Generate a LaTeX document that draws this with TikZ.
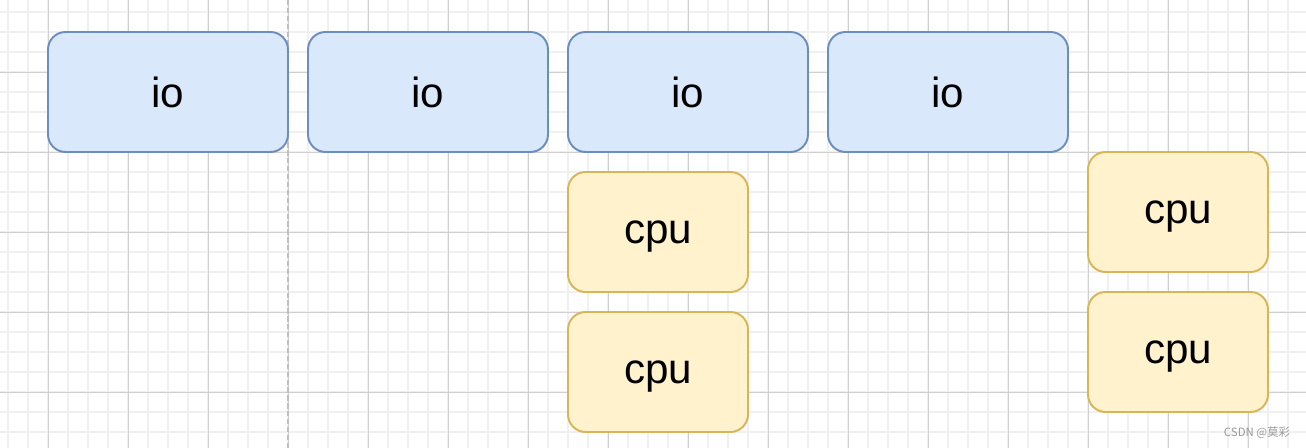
\documentclass[tikz,border=0pt]{standalone}
\usepackage{fontspec}
\setmainfont{Liberation Sans}
\newfontfamily\cjk{Noto Sans CJK SC}
\usetikzlibrary{positioning}
\definecolor{iofill}{HTML}{DAE8FC}
\definecolor{ioline}{HTML}{6C8EBF}
\definecolor{cpufill}{HTML}{FFF2CC}
\definecolor{cpuline}{HTML}{D6B656}
\definecolor{gridmajor}{HTML}{D0D0D0}
\definecolor{gridminor}{HTML}{F0F0F0}
\tikzstyle{iobox} = [draw=ioline, fill=iofill, line width=1.1pt,
    minimum width=4.8cm, minimum height=2.4cm, rounded corners=10pt,
    outer sep=0pt, text depth=0pt, font=\fontsize{24}{28}\selectfont]
\tikzstyle{cpubox} = [draw=cpuline, fill=cpufill, line width=1.1pt,
    minimum width=3.6cm, minimum height=2.4cm, rounded corners=10pt,
    outer sep=0pt, text depth=0pt, font=\fontsize{24}{28}\selectfont]
\def\boxgap{0.4}

\begin{document}
\begin{tikzpicture}
    \useasboundingbox (0,0) rectangle (26.12,-8.96);
    \fill[white] (0,0) rectangle (26.12,-8.96);

    % background grid, minor then major lines
    \foreach \x in {0.16,0.56,...,26.12}
        \draw[gridminor, line width=0.6pt] (\x,0) -- (\x,-8.96);
    \foreach \y in {-0.24,-0.64,...,-8.96}
        \draw[gridminor, line width=0.6pt] (0,\y) -- (26.12,\y);
    \foreach \x in {0.96,2.56,...,26.12}
        \draw[gridmajor, line width=0.5pt] (\x,0) -- (\x,-8.96);
    \foreach \y in {-1.44,-3.04,...,-8.96}
        \draw[gridmajor, line width=0.5pt] (0,\y) -- (26.12,\y);

    % the dashed divider
    \coordinate (divtop) at (5.76,0);
    \coordinate (divbot) at (5.76,-8.96);
    \draw[gray!50, line width=0.9pt, dash pattern=on 3pt off 1.5pt] (divtop) -- (divbot);

    \node (io1) [iobox] at (3.36,-1.84) {io};
    \node (io2) [iobox, right=\boxgap cm of io1] {io};
    \node (io3) [iobox, right=\boxgap cm of io2] {io};
    \node (io4) [iobox, right=\boxgap cm of io3] {io};

    \path (io3.south west)+(0,-\boxgap) node (cpu1) [cpubox, anchor=north west] {cpu};
    \node (cpu2) [cpubox, below=\boxgap cm of cpu1] {cpu};

    \path (io4.south east)+(\boxgap,0) node (cpu3) [cpubox, anchor=north west] {cpu};
    \node (cpu4) [cpubox, below=\boxgap cm of cpu3] {cpu};

    % watermark
    \node (mark) at (25.14,-8.66) [text=gray!80, font=\cjk\fontsize{6.5}{8}\selectfont] {CSDN @莫彩};
\end{tikzpicture}
\end{document}
